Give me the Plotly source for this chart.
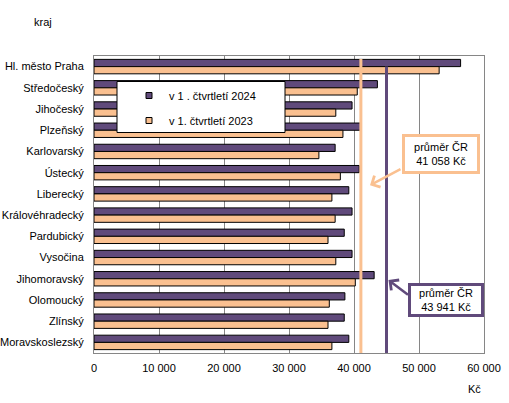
import plotly.graph_objects as go

# ---- data ----
regions = ["Hl. město Praha", "Středočeský", "Jihočeský", "Plzeňský", "Karlovarský",
           "Ústecký", "Liberecký", "Královéhradecký", "Pardubický", "Vysočina",
           "Jihomoravský", "Olomoucký", "Zlínský", "Moravskoslezský"]
wage_q1_2024 = [56400, 43600, 39700, 41100, 37100, 40800, 39200, 39700, 38500, 39700,
                43100, 38600, 38500, 39200]
wage_q1_2023 = [53100, 40500, 37200, 38300, 34600, 37900, 36600, 37100, 36000, 37200,
                40200, 36200, 36000, 36600]
series_names = ["v 1 . čtvrtletí 2024", "v 1. čtvrtletí 2023"]
avg_2023 = 41058
avg_2024_line = 45000   # position of the drawn average line
avg_labels = ["průměr ČR<br>41 058 Kč", "průměr ČR<br>43 941 Kč"]
x_tickvals = [0, 10000, 20000, 30000, 40000, 50000, 60000]
x_ticklabels = ["0", "10 000", "20 000", "30 000", "40 000", "50 000", "60 000"]

PURPLE = "#604A7B"
ORANGE = "#FAC090"
FONT = "Liberation Sans, Arial, sans-serif"

W, H = 509, 403
L, R, T, B = 94, 25, 56, 50
PW, PH = W - L - R, H - T - B


def px_x(px):
    return (px - L) / PW


def px_y(py):
    return (H - B - py) / PH


fig = go.Figure()
fig.add_trace(go.Bar(y=regions, x=wage_q1_2024, orientation="h", name=series_names[0],
                     marker=dict(color=PURPLE, line=dict(color="black", width=1)),
                     showlegend=False))
fig.add_trace(go.Bar(y=regions, x=wage_q1_2023, orientation="h", name=series_names[1],
                     marker=dict(color=ORANGE, line=dict(color="black", width=1)),
                     showlegend=False))
# legend entries
for nm, col in zip(series_names, [PURPLE, ORANGE]):
    fig.add_trace(go.Scatter(x=[None], y=[None], mode="markers", name=nm, legendgroup=nm,
                             marker=dict(symbol="square", size=6, color=col,
                                         line=dict(color="black", width=1))))

shapes = [
    # legend frame
    dict(type="rect", xref="paper", yref="paper", x0=px_x(117), x1=px_x(285),
         y0=px_y(132.5), y1=px_y(81.5), fillcolor="white",
         line=dict(color="black", width=1), layer="above"),
    # average lines
    dict(type="line", xref="x", yref="paper", x0=avg_2023, x1=avg_2023, y0=0, y1=px_y(59),
         line=dict(color=ORANGE, width=3), layer="above"),
    dict(type="line", xref="x", yref="paper", x0=avg_2024_line, x1=avg_2024_line, y0=0,
         y1=px_y(66.5), line=dict(color=PURPLE, width=3), layer="above"),
]

annotations = [
    dict(text="kraj", xref="paper", yref="paper", x=px_x(32), y=px_y(22.5),
         xanchor="left", yanchor="middle", showarrow=False,
         font=dict(family=FONT, size=11, color="black")),
    dict(text="Kč", xref="paper", yref="paper", x=px_x(483), y=px_y(389),
         xanchor="right", yanchor="middle", showarrow=False,
         font=dict(family=FONT, size=11, color="black")),
    # arrows
    dict(text="", xref="x", yref="paper", x=(370 - L) / PW * 60000, y=px_y(185.3),
         ax=32, ay=-17, showarrow=True, arrowhead=4, arrowsize=1, arrowwidth=2.5,
         arrowcolor=ORANGE, standoff=0),
    dict(text="", xref="x", yref="paper", x=(388.5 - L) / PW * 60000, y=px_y(280),
         ax=21, ay=16, showarrow=True, arrowhead=4, arrowsize=1, arrowwidth=2.5,
         arrowcolor=PURPLE, standoff=0),
    # callout boxes
    dict(text=avg_labels[0], xref="paper", yref="paper", x=px_x(441.3), y=px_y(153.7),
         xanchor="center", yanchor="middle", showarrow=False, align="center",
         width=70, height=32, borderpad=1, borderwidth=3, bordercolor=ORANGE,
         bgcolor="white", font=dict(family=FONT, size=11, color="black")),
    dict(text=avg_labels[1], xref="paper", yref="paper", x=px_x(446), y=px_y(300),
         xanchor="center", yanchor="middle", showarrow=False, align="center",
         width=68, height=26, borderpad=1, borderwidth=3, bordercolor=PURPLE,
         bgcolor="white", font=dict(family=FONT, size=11, color="black")),
]

fig.update_layout(
    width=W, height=H,
    margin=dict(l=L, r=R, t=T, b=B, pad=0, autoexpand=False),
    paper_bgcolor="white", plot_bgcolor="white",
    barmode="group", bargap=0.32, bargroupgap=0,
    font=dict(family=FONT, size=11, color="black"),
    shapes=shapes, annotations=annotations,
    legend=dict(x=px_x(129), y=px_y(81), xanchor="left", yanchor="top",
                bgcolor="rgba(0,0,0,0)", borderwidth=0, tracegroupgap=6,
                font=dict(family=FONT, size=11, color="black")),
    showlegend=True,
)
fig.update_xaxes(range=[0, 60000], tickvals=x_tickvals, ticktext=x_ticklabels,
                 showgrid=True, gridcolor="#868686", gridwidth=1,
                 showline=True, linecolor="#868686", linewidth=1, mirror=True,
                 zeroline=False, ticks="outside", ticklen=5, tickcolor="white",
                 automargin=False, tickfont=dict(size=11, family=FONT))
fig.update_yaxes(autorange="reversed", showgrid=False, showline=True,
                 linecolor="#868686", linewidth=1, mirror=True,
                 ticks="outside", ticklen=7, tickcolor="white", automargin=False,
                 tickfont=dict(size=11, family=FONT))

fig.write_html("out.html", config={"displayModeBar": False},
               post_script="document.body.style.margin='0';")
